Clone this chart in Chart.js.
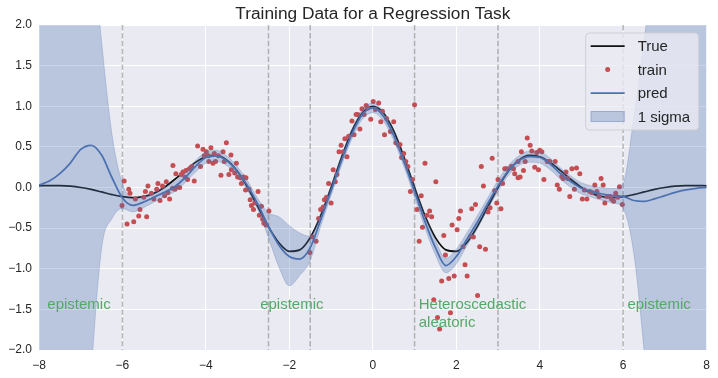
<!DOCTYPE html>
<html>
<head>
<meta charset="utf-8">
<script src="https://cdn.jsdelivr.net/npm/chart.js@4.4.1/dist/chart.umd.min.js"></script>
<style>
  html, body { margin: 0; padding: 0; background: #fff; }
  #wrap { width: 718px; height: 378px; }
</style>
</head>
<body>
<div id="wrap"><canvas id="chart" width="718" height="378"></canvas></div>
<script>
// x positions of the curves (true / pred / sigma band)
const gridX = [
  -8, -7.75, -7.5, -7.25, -7, -6.75, -6.5, -6.25, -6, -5.75, -5.5, -5.25, -5,
  -4.75, -4.5, -4.25, -4, -3.75, -3.5, -3.25, -3, -2.75, -2.5, -2.25, -2,
  -1.75, -1.5, -1.25, -1, -0.75, -0.5, -0.25, 0, 0.25, 0.5, 0.75, 1,
  1.25, 1.5, 1.75, 2, 2.25, 2.5, 2.75, 3, 3.25, 3.5, 3.75, 4,
  4.25, 4.5, 4.75, 5, 5.25, 5.5, 5.75, 6, 6.25, 6.5, 6.75, 7,
  7.25, 7.5, 7.75, 8
];

const trueY = [
  0.021, 0.024, 0.023, 0.016, 0, -0.024, -0.055, -0.087, -0.113, -0.125, -0.113, -0.072, 0,
  0.098, 0.207, 0.309, 0.379, 0.394, 0.337, 0.202, 0, -0.242, -0.484, -0.680, -0.785,
  -0.767, -0.617, -0.348, 0, 0.370, 0.697, 0.920, 1.0, 0.920, 0.697, 0.370, 0,
  -0.348, -0.617, -0.767, -0.785, -0.680, -0.484, -0.242, 0, 0.202, 0.337, 0.394, 0.379,
  0.309, 0.207, 0.098, 0, -0.072, -0.113, -0.125, -0.113, -0.087, -0.055, -0.024, 0,
  0.016, 0.023, 0.024, 0.021
];

const predY = [
  0.03, 0.08, 0.17, 0.30, 0.47, 0.52, 0.40, 0.12, -0.13, -0.22, -0.18, -0.12, -0.06,
  0.01, 0.12, 0.26, 0.37, 0.39, 0.33, 0.20, 0.02, -0.21, -0.48, -0.71, -0.85,
  -0.88, -0.74, -0.40, -0.04, 0.33, 0.66, 0.90, 0.98, 0.88, 0.64, 0.31, -0.05,
  -0.42, -0.74, -0.96, -0.85, -0.64, -0.43, -0.20, 0.02, 0.21, 0.33, 0.38, 0.37,
  0.29, 0.17, 0.07, -0.01, -0.05, -0.08, -0.10, -0.11, -0.16, -0.17, -0.14, -0.10,
  -0.06, -0.03, -0.01, 0.0
];

const sigmaUpper = [
  20, 15, 11, 7.5, 5.0, 3.2, 1.8, 0.65, 0.05, -0.14, -0.11, -0.06, 0.00,
  0.07, 0.18, 0.33, 0.44, 0.46, 0.39, 0.26, 0.08, -0.14, -0.31, -0.36, -0.47,
  -0.56, -0.60, -0.32, 0.02, 0.39, 0.72, 0.96, 1.04, 0.94, 0.70, 0.37, 0.02,
  -0.34, -0.65, -0.87, -0.76, -0.56, -0.35, -0.13, 0.09, 0.27, 0.39, 0.45, 0.44,
  0.36, 0.24, 0.14, 0.06, 0.02, 0.00, -0.01, 0.06, 0.85, 1.8, 3.0, 4.6,
  7, 10, 14, 19
];

const sigmaLower = [
  -20, -15, -11, -7.2, -4.4, -2.3, -0.75, -0.38, -0.26, -0.30, -0.25, -0.18, -0.12,
  -0.05, 0.06, 0.19, 0.30, 0.32, 0.27, 0.14, -0.04, -0.28, -0.62, -0.98, -1.21,
  -1.08, -0.90, -0.48, -0.10, 0.27, 0.60, 0.84, 0.92, 0.82, 0.58, 0.25, -0.12,
  -0.50, -0.83, -1.05, -0.94, -0.72, -0.51, -0.27, -0.05, 0.15, 0.27, 0.31, 0.30,
  0.22, 0.10, 0.00, -0.08, -0.12, -0.16, -0.19, -0.26, -0.80, -2.0, -3.5, -5.2,
  -7.5, -10.5, -14.5, -19
];

// noisy training samples
const trainX = [
  -6.01, -5.96, -5.89, -5.85, -5.82, -5.73, -5.69, -5.61, -5.58, -5.49,
  -5.45, -5.42, -5.39, -5.31, -5.25, -5.18, -5.15, -5.10, -5.04, -4.99,
  -4.95, -4.91, -4.87, -4.80, -4.79, -4.74, -4.72, -4.68, -4.63, -4.59,
  -4.55, -4.50, -4.48, -4.44, -4.39, -4.34, -4.28, -4.20, -4.13, -4.07,
  -4.04, -3.99, -3.94, -3.93, -3.88, -3.83, -3.80, -3.77, -3.70, -3.64,
  -3.59, -3.56, -3.51, -3.45, -3.40, -3.39,
  -3.31, -3.27, -3.24, -3.18, -3.15, -3.10, -3.05, -3.04, -2.97, -2.94,
  -2.91, -2.86, -2.83, -2.75, -2.72, -2.67, -2.64, -2.61, -2.56, -2.49,
  -1.51, -1.44, -1.36, -1.30, -1.25, -1.19, -1.16, -1.11, -1.06, -1.00,
  -0.95, -0.90, -0.86, -0.81, -0.76, -0.71, -0.67, -0.62,
  -0.58, -0.50, -0.45, -0.40, -0.36, -0.31, -0.26, -0.21, -0.16, -0.12,
  -0.05, 0.01, 0.06, 0.14, 0.19, 0.23, 0.28, 0.33, 0.42, 0.50,
  0.55, 0.62, 0.65, 0.69, 0.74, 0.79, 0.84, 0.90, 0.95, 1.00,
  1.06, 1.16, 1.25, 1.30, 1.36, 1.41, 1.51,
  1.11, 1.19, 1.46, 1.55, 1.60, 1.65, 1.70, 1.74, 1.82, 1.86,
  1.90, 1.95, 2.02, 2.06, 2.10, 2.16, 2.21, 2.26, 2.34, 2.37,
  2.41, 2.46, 2.51, 2.56, 2.60, 2.65, 2.70, 2.76, 2.81, 2.86,
  2.92, 2.97, 3.00, 3.07, 3.11, 3.16, 3.21, 3.32, 3.37, 3.40,
  3.48, 3.56, 3.61, 3.65, 3.70,
  3.48, 3.53, 3.77, 3.81, 3.88, 3.93, 3.97, 4.00, 4.05, 4.10,
  4.18, 4.24, 4.37, 4.42, 4.47, 4.53, 4.56, 4.63, 4.67, 4.72,
  4.77, 4.83, 4.88, 4.96, 5.02, 5.07, 5.13, 5.20, 5.25, 5.32,
  5.37, 5.42, 5.47, 5.52, 5.56, 5.61, 5.68, 5.72, 5.77, 5.82,
  5.87, 5.91, 5.98
];

const trainY = [
  -0.22, 0.08, -0.45, -0.02, -0.07, -0.42, -0.14, -0.35, -0.27, -0.12,
  -0.05, -0.36, 0.02, -0.07, -0.14, -0.02, 0.05, -0.16, 0.02, -0.10,
  0.07, -0.06, -0.14, -0.01, 0.27, -0.02, 0.17, 0.01, 0.00, 0.16,
  0.19, 0.13, 0.21, 0.10, 0.23, 0.26, 0.08, 0.51, 0.26, 0.47,
  0.39, 0.44, 0.39, 0.32, 0.49, 0.30, 0.42, 0.32, 0.39, 0.15,
  0.44, 0.32, 0.55, 0.16, 0.40, 0.22,
  0.18, 0.30, 0.13, 0.12, 0.05, 0.13, -0.03, 0.12, -0.02, -0.15,
  -0.22, -0.27, -0.19, -0.05, -0.34, -0.23, -0.39, -0.44, -0.46, -0.29,
  -0.80, -0.61, -0.66, -0.38, -0.27, -0.24, -0.15, -0.12, 0.05, -0.19,
  0.22, 0.07, 0.16, 0.44, 0.52, 0.44, 0.60, 0.38,
  0.63, 0.82, 0.65, 0.90, 0.90, 0.72, 0.97, 0.90, 1.01, 0.98,
  0.84, 1.06, 0.96, 1.04, 0.81, 0.94, 0.65, 0.85, 0.69, 0.81,
  0.55, 0.52, 0.53, 0.37, 0.42, 0.32, 0.26, -0.05, 0.10, 1.02,
  -0.27, -0.10, 0.30, -0.34, -0.29, -0.36, 0.07,
  -0.66, -0.49, -1.38, -1.60, -1.74, -1.15, -0.59, -0.83, -1.12, -1.54,
  -0.46, -1.09, -0.52, -0.38, -0.29, -0.73, -0.95, -1.09, -0.60, -0.26,
  -0.61, -0.21, -1.33, -0.73, 0.26, 0.02, -0.76, -0.30, -0.25, 0.36,
  -0.04, -0.19, 0.10, -0.26, 0.05, 0.23, 0.23, 0.26, 0.23, 0.17,
  0.12, 0.44, 0.21, 0.32, 0.61,
  0.32, 0.13, 0.52, 0.45, 0.25, 0.43, 0.22, 0.46, 0.44, 0.10,
  0.32, 0.32, 0.32, 0.03, -0.02, 0.14, 0.11, 0.19, 0.11, -0.11,
  0.23, -0.02, 0.24, 0.17, -0.14, -0.03, -0.14, -0.05, -0.06, 0.03,
  -0.05, -0.11, 0.11, 0.03, -0.19, -0.11, -0.11, -0.14, -0.17, -0.07,
  -0.12, 0.01, -0.21
];

// borders between the data regions
const regionEdges = [-6, -2.5, -1.5, 1, 3, 6];

// region labels, anchored in data coordinates
const notes = [
  { text: 'epistemic', x: -7.8, y: -1.5 },
  { text: 'epistemic', x: -2.7, y: -1.5 },
  { text: 'Heteroscedastic\naleatoric', x: 1.1, y: -1.5 },
  { text: 'epistemic', x: 6.1, y: -1.5 }
];

const FONT = '"Liberation Sans", Arial, sans-serif';
const TEXT_COLOR = '#262626';
const BLUE = '#4C72B0';
const RED = '#C44E52';
const BAND = 'rgba(76, 114, 176, 0.3)';

function toPoints(xs, ys) {
    return xs.map((x, i) => ({ x: x, y: ys[i] }));
}

function minus(str) {
    return str.replace('-', '\u2212');
}

function drawLegend(chart) {
    const ctx = chart.ctx;
    const a = chart.chartArea;
    const w = 113, h = 97, r = 4;
    const bx = a.right - 8 - w;
    const by = a.top + 8;

    ctx.save();
    ctx.beginPath();
    ctx.moveTo(bx + r, by);
    ctx.lineTo(bx + w - r, by);
    ctx.arcTo(bx + w, by, bx + w, by + r, r);
    ctx.lineTo(bx + w, by + h - r);
    ctx.arcTo(bx + w, by + h, bx + w - r, by + h, r);
    ctx.lineTo(bx + r, by + h);
    ctx.arcTo(bx, by + h, bx, by + h - r, r);
    ctx.lineTo(bx, by + r);
    ctx.arcTo(bx, by, bx + r, by, r);
    ctx.closePath();
    ctx.fillStyle = 'rgba(234, 234, 242, 0.8)';
    ctx.fill();
    ctx.strokeStyle = '#cfcfd6';
    ctx.lineWidth = 1;
    ctx.stroke();

    const ds = chart.data.datasets;
    const x0 = bx + 5, x1 = bx + 39;
    const rows = [by + 13, by + 36.5, by + 60, by + 83.5];

    // True
    ctx.strokeStyle = ds[0].borderColor;
    ctx.lineWidth = ds[0].borderWidth;
    ctx.beginPath(); ctx.moveTo(x0, rows[0]); ctx.lineTo(x1, rows[0]); ctx.stroke();
    // train
    ctx.fillStyle = ds[1].pointBackgroundColor;
    ctx.beginPath(); ctx.arc((x0 + x1) / 2, rows[1], ds[1].pointRadius, 0, Math.PI * 2); ctx.fill();
    // pred
    ctx.strokeStyle = ds[2].borderColor;
    ctx.lineWidth = ds[2].borderWidth;
    ctx.beginPath(); ctx.moveTo(x0, rows[2]); ctx.lineTo(x1, rows[2]); ctx.stroke();
    // 1 sigma
    ctx.fillStyle = ds[3].backgroundColor;
    ctx.fillRect(x0, rows[3] - 5.5, x1 - x0, 11);
    ctx.strokeStyle = ds[3].borderColor;
    ctx.lineWidth = 1;
    ctx.strokeRect(x0 + 0.5, rows[3] - 5, x1 - x0 - 1, 10);

    ctx.fillStyle = TEXT_COLOR;
    ctx.font = '15px ' + FONT;
    ctx.textAlign = 'left';
    ctx.textBaseline = 'middle';
    ['True', 'train', 'pred', '1 sigma'].forEach((t, i) => ctx.fillText(t, bx + 52, rows[i] + 1));
    ctx.restore();
}

const decor = {
    id: 'decor',
    beforeDraw(chart) {
        const ctx = chart.ctx;
        const a = chart.chartArea;
        ctx.save();
        ctx.fillStyle = '#ffffff';
        ctx.fillRect(0, 0, chart.width, chart.height);
        ctx.fillStyle = '#EAEAF2';
        ctx.fillRect(a.left, a.top, a.right - a.left, a.bottom - a.top);
        ctx.restore();
    },
    beforeDatasetsDraw(chart) {
        const ctx = chart.ctx;
        const a = chart.chartArea;
        const xs = chart.scales.x;
        ctx.save();
        ctx.strokeStyle = 'rgba(128, 128, 128, 0.55)';
        ctx.lineWidth = 1.5;
        ctx.setLineDash([5.5, 2.4]);
        regionEdges.forEach(v => {
            const px = xs.getPixelForValue(v);
            ctx.beginPath();
            ctx.moveTo(px, a.top);
            ctx.lineTo(px, a.bottom);
            ctx.stroke();
        });
        ctx.restore();
    },
    afterDatasetsDraw(chart) {
        const ctx = chart.ctx;
        const a = chart.chartArea;
        const xs = chart.scales.x, ys = chart.scales.y;

        // region labels
        ctx.save();
        ctx.fillStyle = '#55A868';
        ctx.font = '15px ' + FONT;
        ctx.textAlign = 'left';
        ctx.textBaseline = 'alphabetic';
        notes.forEach(n => {
            const px = xs.getPixelForValue(n.x);
            const py = ys.getPixelForValue(n.y);
            n.text.split('\n').forEach((line, i) => ctx.fillText(line, px, py + i * 17.5));
        });
        ctx.restore();

        drawLegend(chart);

        // title
        ctx.save();
        ctx.fillStyle = TEXT_COLOR;
        ctx.font = '17.3px ' + FONT;
        ctx.textAlign = 'center';
        ctx.textBaseline = 'alphabetic';
        ctx.fillText('Training Data for a Regression Task', (a.left + a.right) / 2, 19);
        ctx.restore();
    }
};

const lineBase = { showLine: true, pointRadius: 0, fill: false, cubicInterpolationMode: 'monotone' };

new Chart(document.getElementById('chart'), {
    type: 'scatter',
    data: {
        datasets: [
            Object.assign({}, lineBase, {
                label: 'True', data: toPoints(gridX, trueY),
                borderColor: '#111111', borderWidth: 1.75, order: 3
            }),
            {
                label: 'train', data: toPoints(trainX, trainY), showLine: false,
                pointRadius: 2.5, pointBackgroundColor: RED, pointBorderWidth: 0, order: 2
            },
            Object.assign({}, lineBase, {
                label: 'pred', data: toPoints(gridX, predY),
                borderColor: BLUE, borderWidth: 1.75, order: 1
            }),
            Object.assign({}, lineBase, {
                label: '1 sigma', data: toPoints(gridX, sigmaUpper),
                borderColor: BAND, borderWidth: 0.8, backgroundColor: BAND, fill: '+1', order: 0
            }),
            Object.assign({}, lineBase, {
                label: 'lower', data: toPoints(gridX, sigmaLower),
                borderColor: BAND, borderWidth: 0.8, order: 0
            })
        ]
    },
    options: {
        responsive: false,
        animation: false,
        devicePixelRatio: 1,
        events: [],
        layout: { padding: { top: 25, right: 10, bottom: 0, left: 0 } },
        plugins: {
            legend: { display: false },
            tooltip: { enabled: false },
            title: { display: false }
        },
        scales: {
            x: {
                type: 'linear', min: -8, max: 8,
                grid: { color: '#ffffff', lineWidth: 1, drawTicks: false },
                border: { display: false },
                ticks: {
                    stepSize: 2, padding: 8, color: TEXT_COLOR,
                    font: { family: FONT, size: 12 },
                    callback: v => minus(String(v))
                },
                afterFit: s => { s.height = 28; }
            },
            y: {
                type: 'linear', min: -2, max: 2,
                grid: { color: '#ffffff', lineWidth: 1, drawTicks: false },
                border: { display: false },
                ticks: {
                    stepSize: 0.5, padding: 7, color: TEXT_COLOR,
                    font: { family: FONT, size: 12 },
                    callback: v => minus(v.toFixed(1))
                },
                afterFit: s => { s.width = 39; }
            }
        }
    },
    plugins: [decor]
});
</script>
</body>
</html>
